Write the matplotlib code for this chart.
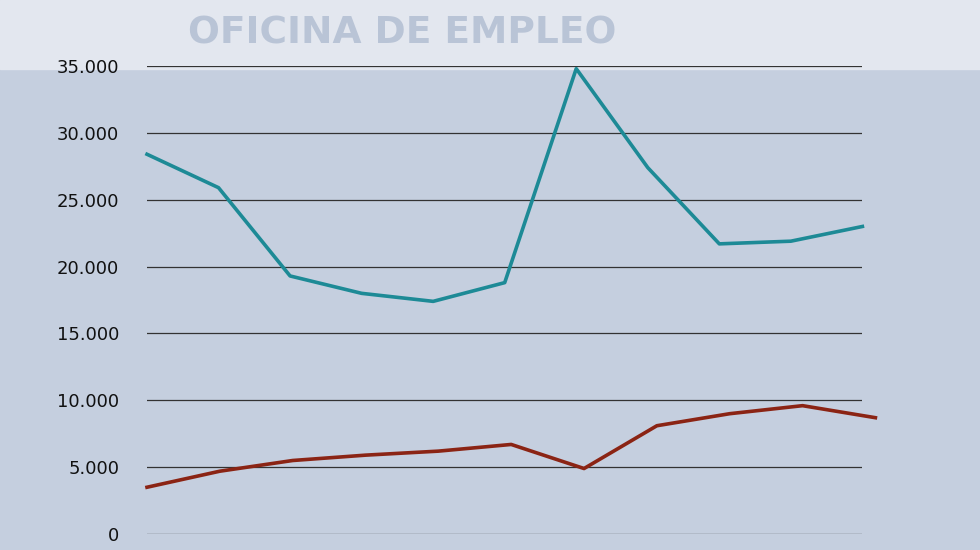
import matplotlib
matplotlib.use("Agg")
import matplotlib.pyplot as plt
import numpy as np

teal_values = [28400, 25900, 19300, 18000, 17400, 18800, 34800, 27400, 21700, 21900, 23000]
red_values = [3500, 4700, 5500, 5900, 6200, 6700, 4900, 8100, 9000, 9600, 8700]
yticks = [0, 5000, 10000, 15000, 20000, 25000, 30000, 35000]
ytick_labels = ["0", "5.000", "10.000", "15.000", "20.000", "25.000", "30.000", "35.000"]

fig = plt.figure(figsize=(9.8, 5.5), dpi=100)
fig.patch.set_facecolor("#c5cfdf")
bg = fig.add_axes([0, 0, 1, 1], zorder=0)
bg.axis("off")
bg.add_patch(plt.Rectangle((0, 0.875), 1, 0.125, color="#e3e7ef", transform=bg.transAxes))
bg.text(0.41, 0.94, "OFICINA DE EMPLEO", ha="center", va="center",
        fontsize=27, fontweight="bold", color="#b9c4d6", transform=bg.transAxes)

ax = fig.add_axes([0.15, 0.029, 0.73, 0.851], zorder=2)
ax.set_facecolor("none")
n = len(teal_values)
scale = (862 - 147) / (875 - 147)
x_red = np.arange(n)
x_teal = np.arange(n) * scale
ax.plot(x_teal, teal_values, color="#1d8a96", lw=2.6, clip_on=False, zorder=3)
ax.plot(x_red, red_values, color="#8b2414", lw=2.6, clip_on=False, zorder=3)
ax.set_xlim(0, (n - 1) * scale)
ax.set_ylim(0, 35000)
ax.set_yticks(yticks)
ax.set_yticklabels(ytick_labels, fontsize=13, color="#111111")
ax.set_xticks([])
ax.grid(axis="y", color="#333333", lw=0.9)
ax.tick_params(axis="y", length=0, pad=20)
for s in ax.spines.values():
    s.set_visible(False)
fig.savefig("out.png", dpi=100, facecolor=fig.get_facecolor())
